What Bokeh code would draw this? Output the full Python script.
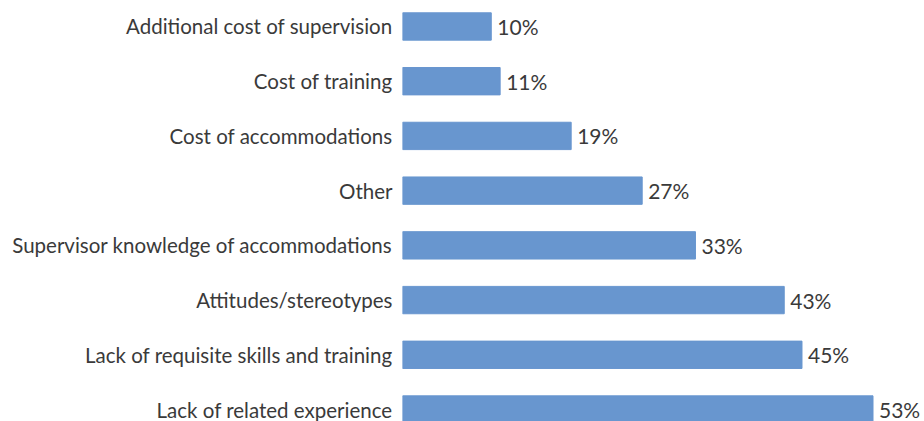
from bokeh.plotting import figure
from bokeh.models import ColumnDataSource, Range1d, FixedTicker
from bokeh.embed import file_html
from bokeh.resources import INLINE
from bokeh.core.properties import value

categories = [
    "Lack of related experience",
    "Lack of requisite skills and training",
    "Attitudes/stereotypes",
    "Supervisor knowledge of accommodations",
    "Other",
    "Cost of accommodations",
    "Cost of training",
    "Additional cost of supervision",
]
values = [53, 45, 43, 33, 27, 19, 11, 10]
labels = [f"{v}%" for v in values]

ypos = list(range(len(categories)))
src = ColumnDataSource(dict(y=ypos, v=values, lab=labels))

FONT = "Lato"
TXT = "#3a3a3a"

p = figure(width=924, height=421, output_backend="svg", toolbar_location=None,
           x_range=Range1d(0, 58.8), y_range=Range1d(-0.219, 7.475),
           min_border_left=402, min_border_right=0, min_border_top=0, min_border_bottom=0)
p.hbar(y="y", right="v", left=0, height=0.5, source=src, color="#6896cf")
p.text(x="v", y="y", text="lab", source=src, x_offset=6, text_baseline="middle",
       text_font=value(FONT), text_font_size="21px", text_color=TXT)

p.xaxis.visible = False
p.yaxis.ticker = FixedTicker(ticks=ypos)
p.yaxis.major_label_overrides = {i: c for i, c in enumerate(categories)}
p.yaxis.axis_line_color = None
p.yaxis.major_tick_line_color = None
p.yaxis.minor_tick_line_color = None
p.yaxis.major_label_text_font = FONT
p.yaxis.major_label_text_font_size = "20.5px"
p.yaxis.major_label_text_color = TXT
p.yaxis.major_label_standoff = 4
p.xgrid.visible = False
p.ygrid.visible = False
p.outline_line_color = None

open("out.html", "w").write(file_html(p, INLINE))
